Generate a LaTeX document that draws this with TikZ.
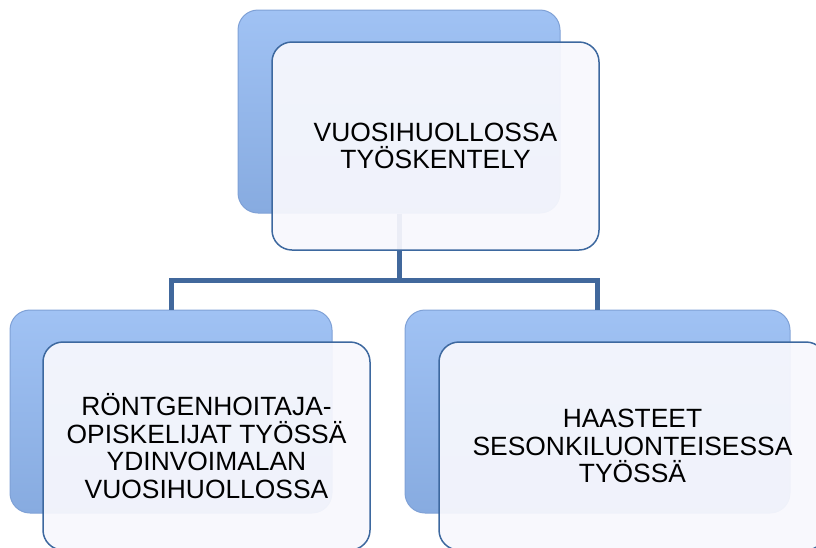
\documentclass[tikz,border=0pt]{standalone}
\usepackage{fontspec}
\setmainfont{Liberation Sans}
\usetikzlibrary{positioning}
\definecolor{bgtop}{HTML}{A0C2F4}
\definecolor{bgbot}{HTML}{87ABE0}
\definecolor{bgedge}{HTML}{7FA1D6}
\definecolor{boxfill}{HTML}{F8F8FD}
\definecolor{boxline}{HTML}{3D689F}
\definecolor{linkc}{HTML}{41689C}
\begin{document}
\begin{tikzpicture}[x=1pt,y=-1pt,
  bg/.style={rounded corners=20pt,top color=bgtop,bottom color=bgbot,draw=bgedge,line width=1pt,minimum height=203pt},
  box/.style={rounded corners=20pt,fill=boxfill,fill opacity=.93,text opacity=1,draw=boxline,line width=1.5pt,
    minimum height=208pt,align=center,font=\fontsize{26.4}{27.5}\selectfont},
  link/.style={draw=linkc,line width=5pt}]
\useasboundingbox (0,0) rectangle (816,547);
\clip (0,0) rectangle (816,547);
% back boxes
\node[bg,minimum width=322pt] (topbg) at (399,111.5) {};
\node[bg,minimum width=322pt] (lbg) at (171,411.5) {};
\node[bg,minimum width=385pt] (rbg) at (597.5,411.5) {};
% connectors
\draw[link] (topbg.south) -- ++(0,67) coordinate (fork) -| (lbg.north);
\draw[link] (fork) -| (rbg.north);
% front boxes
\node[box,minimum width=327pt] (top) at (435.5,146) {VUOSIHUOLLOSSA\\TYÖSKENTELY};
\node[box,minimum width=327pt] (lbox) at (206.5,446) {RÖNTGENHOITAJA-\\OPISKELIJAT TYÖSSÄ\\YDINVOIMALAN\\VUOSIHUOLLOSSA};
\node[box,minimum width=387pt] (rbox) at (632.5,446) {HAASTEET\\SESONKILUONTEISESSA\\TYÖSSÄ};
\end{tikzpicture}
\end{document}
